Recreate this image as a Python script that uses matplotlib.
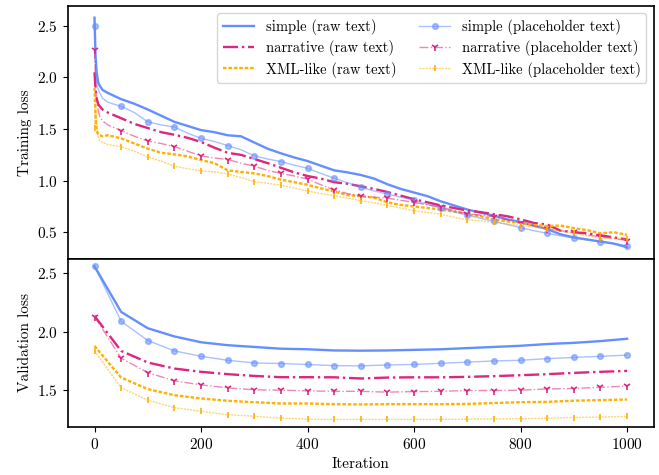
import matplotlib
matplotlib.use("Agg")
import matplotlib.pyplot as plt
from matplotlib.colors import to_rgba

plt.rcParams["font.family"] = "serif"
plt.rcParams["font.serif"] = ["cmr10"]
plt.rcParams["mathtext.fontset"] = "cm"
plt.rcParams["axes.unicode_minus"] = False
plt.rcParams["axes.formatter.use_mathtext"] = True
plt.rcParams["font.size"] = 11
plt.rcParams["axes.linewidth"] = 1.2

# training loss
train_iters = [0, 2, 4, 7, 10, 15, 25, 50, 75, 100, 125, 150, 175, 200, 225, 250,
               275, 300, 325, 350, 375, 400, 425, 450, 475, 500, 525, 550, 575, 600,
               625, 650, 675, 700, 725, 750, 775, 800, 825, 850, 875, 900, 925, 950,
               975, 1000]
simple_raw_train = [2.58, 2.2, 2.05, 1.95, 1.92, 1.88, 1.85, 1.79, 1.745, 1.69, 1.63, 1.57,
                    1.53, 1.49, 1.47, 1.44, 1.43, 1.37, 1.31, 1.265, 1.225, 1.19, 1.145,
                    1.10, 1.08, 1.055, 1.02, 0.965, 0.92, 0.885, 0.85, 0.80, 0.76, 0.72,
                    0.69, 0.66, 0.625, 0.60, 0.565, 0.53, 0.48, 0.45, 0.43, 0.41, 0.39, 0.355]
simple_ph_train = [2.495, 2.15, 1.95, 1.88, 1.85, 1.80, 1.76, 1.72, 1.66, 1.57, 1.54, 1.52,
                   1.46, 1.41, 1.38, 1.34, 1.30, 1.24, 1.21, 1.185, 1.15, 1.12, 1.07, 1.025,
                   0.98, 0.935, 0.90, 0.87, 0.84, 0.81, 0.77, 0.735, 0.70, 0.665, 0.635,
                   0.605, 0.575, 0.545, 0.515, 0.49, 0.465, 0.445, 0.425, 0.41, 0.39, 0.37]
narr_raw_train = [2.05, 1.88, 1.80, 1.74, 1.72, 1.69, 1.66, 1.605, 1.55, 1.51, 1.47, 1.445,
                  1.415, 1.375, 1.32, 1.27, 1.25, 1.21, 1.17, 1.125, 1.08, 1.045, 1.02, 0.985,
                  0.97, 0.945, 0.92, 0.89, 0.855, 0.82, 0.79, 0.76, 0.735, 0.71, 0.695, 0.675,
                  0.655, 0.625, 0.59, 0.575, 0.515, 0.50, 0.49, 0.47, 0.45, 0.43]
narr_ph_train = [2.27, 1.95, 1.78, 1.68, 1.62, 1.58, 1.54, 1.485, 1.43, 1.385, 1.36, 1.33,
                 1.285, 1.24, 1.22, 1.205, 1.17, 1.14, 1.10, 1.07, 1.045, 1.015, 0.96, 0.91,
                 0.875, 0.85, 0.84, 0.83, 0.81, 0.79, 0.765, 0.745, 0.71, 0.68, 0.665, 0.65,
                 0.62, 0.59, 0.56, 0.535, 0.515, 0.50, 0.475, 0.455, 0.44, 0.42]
xml_raw_train = [1.90, 1.62, 1.48, 1.45, 1.44, 1.43, 1.44, 1.41, 1.36, 1.31, 1.27, 1.255,
                 1.235, 1.20, 1.17, 1.10, 1.085, 1.07, 1.045, 1.01, 0.985, 0.96, 0.925, 0.895,
                 0.86, 0.85, 0.835, 0.79, 0.765, 0.75, 0.735, 0.72, 0.70, 0.675, 0.655, 0.625,
                 0.605, 0.59, 0.57, 0.56, 0.565, 0.54, 0.52, 0.49, 0.50, 0.475]
xml_ph_train = [1.51, 1.75, 1.55, 1.42, 1.385, 1.37, 1.35, 1.33, 1.285, 1.23, 1.19, 1.14,
                1.115, 1.095, 1.085, 1.065, 1.03, 0.99, 0.975, 0.955, 0.93, 0.90, 0.875, 0.855,
                0.83, 0.806, 0.785, 0.76, 0.735, 0.71, 0.69, 0.675, 0.645, 0.62, 0.61, 0.597,
                0.58, 0.565, 0.55, 0.533, 0.51, 0.49, 0.465, 0.44, 0.445, 0.43]

# validation loss
val_iters = [0, 50, 100, 150, 200, 250, 300, 350, 400, 450, 500, 550, 600, 650, 700, 750,
             800, 850, 900, 950, 1000]
simple_raw_val = [2.56, 2.17, 2.03, 1.96, 1.91, 1.885, 1.87, 1.855, 1.85, 1.84, 1.838, 1.84,
                  1.845, 1.85, 1.86, 1.87, 1.88, 1.895, 1.905, 1.92, 1.94]
simple_ph_val = [2.56, 2.09, 1.925, 1.836, 1.79, 1.756, 1.733, 1.728, 1.72, 1.71, 1.708, 1.716,
                 1.72, 1.73, 1.74, 1.75, 1.756, 1.77, 1.78, 1.79, 1.80]
narr_raw_val = [2.135, 1.836, 1.737, 1.685, 1.657, 1.637, 1.622, 1.611, 1.611, 1.61, 1.60,
                1.608, 1.61, 1.61, 1.614, 1.62, 1.628, 1.637, 1.648, 1.657, 1.665]
narr_ph_val = [2.13, 1.774, 1.65, 1.58, 1.545, 1.52, 1.503, 1.50, 1.494, 1.49, 1.49, 1.483,
               1.488, 1.49, 1.497, 1.497, 1.50, 1.51, 1.514, 1.525, 1.535]
xml_raw_val = [1.879, 1.608, 1.509, 1.457, 1.429, 1.409, 1.397, 1.386, 1.386, 1.38, 1.378,
               1.38, 1.38, 1.38, 1.382, 1.39, 1.397, 1.40, 1.41, 1.415, 1.42]
xml_ph_val = [1.836, 1.52, 1.415, 1.35, 1.318, 1.29, 1.277, 1.26, 1.252, 1.25, 1.25, 1.25,
              1.25, 1.25, 1.252, 1.254, 1.256, 1.26, 1.266, 1.27, 1.275]

names = ["simple", "narrative", "XML-like"]
colors = ["#648FFF", "#DC267F", "#FFB000"]
styles = ["-", "-.", (0, (1.5, 0.8))]
markers = ["o", "1", "|"]
msizes = [4, 6, 5]

raw_train = [simple_raw_train, narr_raw_train, xml_raw_train]
ph_train = [simple_ph_train, narr_ph_train, xml_ph_train]
raw_val = [simple_raw_val, narr_raw_val, xml_raw_val]
ph_val = [simple_ph_val, narr_ph_val, xml_ph_val]

fig, (ax1, ax2) = plt.subplots(2, 1, sharex=True, figsize=(6.59, 4.75), dpi=100,
                               gridspec_kw={"height_ratios": [3, 2], "hspace": 0})
fig.subplots_adjust(left=0.103, right=0.992, top=0.987, bottom=0.101)

mark_idx = [i for i, it in enumerate(train_iters) if it % 50 == 0]

def draw(ax, x, raw, ph, markidx):
    raw_handles, ph_handles = [], []
    for i in range(3):
        h, = ax.plot(x, raw[i], color=colors[i], ls=styles[i], lw=1.7,
                     label=f"{names[i]} (raw text)")
        raw_handles.append(h)
    for i in range(3):
        light = to_rgba(colors[i], 0.55)
        mec = light if markers[i] == "o" else colors[i]
        h, = ax.plot(x, ph[i], color=light, ls=styles[i], lw=1.0,
                     marker=markers[i], markevery=markidx, markersize=msizes[i],
                     markerfacecolor=light, markeredgecolor=mec, markeredgewidth=1.2,
                     label=f"{names[i]} (placeholder text)")
        ph_handles.append(h)
    return raw_handles + ph_handles

handles = draw(ax1, train_iters, raw_train, ph_train, mark_idx)
draw(ax2, val_iters, raw_val, ph_val, None)

ax1.legend(handles=handles, ncol=2, loc="upper right", fontsize=10.5,
           handlelength=2.1, columnspacing=1.6, labelspacing=0.35)
ax1.tick_params(axis="x", bottom=False)
ax1.set_ylabel("Training loss")
ax2.set_ylabel("Validation loss")
ax2.set_xlabel("Iteration")
ax1.set_yticks([0.5, 1.0, 1.5, 2.0, 2.5])
ax2.set_yticks([1.5, 2.0, 2.5])
ax2.set_xticks([0, 200, 400, 600, 800, 1000])
fig.align_ylabels([ax1, ax2])

fig.savefig("out.png", dpi=100)
